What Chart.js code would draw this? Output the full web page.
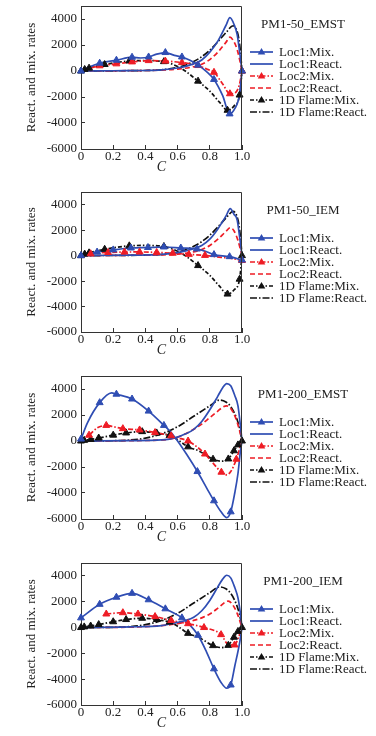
<!DOCTYPE html>
<html>
<head>
<meta charset="utf-8">
<script src="https://cdn.jsdelivr.net/npm/chart.js@4.4.1/dist/chart.umd.min.js"></script>
<style>
  html, body { margin: 0; padding: 0; background: #fff; overflow: hidden; }
  canvas { position: absolute; left: 0; }
</style>
</head>
<body>
<canvas id="c0" width="376" height="180" style="top:0px"></canvas>
<canvas id="c1" width="376" height="180" style="top:186px"></canvas>
<canvas id="c2" width="376" height="180" style="top:370px"></canvas>
<canvas id="c3" width="376" height="180" style="top:557px"></canvas>
<script>
const FONT = '"Liberation Serif", "DejaVu Serif", serif';
const BLUE = '#2f4db3';
const RED = '#ee1c25';
const BLACK = '#111111';

const panelTitles = ['PM1-50_EMST', 'PM1-50_IEM', 'PM1-200_EMST', 'PM1-200_IEM'];
const seriesLabels = ['Loc1:Mix.', 'Loc1:React.', 'Loc2:Mix.', 'Loc2:React.', '1D Flame:Mix.', '1D Flame:React.'];
const xTicks = [0, 0.2, 0.4, 0.6, 0.8, 1.0];
const xTickLabels = ['0', '0.2', '0.4', '0.6', '0.8', '1.0'];
const yTicks = [-6000, -4000, -2000, 0, 2000, 4000];
const yTickLabels = ['-6000', '-4000', '-2000', '0', '2000', '4000'];

// PM1-50_EMST
const p1Loc1Mix = [[0,0],[0.05,300],[0.116,600],[0.22,830],[0.317,1060],[0.37,1000],[0.42,1080],[0.47,1300],[0.524,1420],[0.58,1200],[0.627,1080],[0.68,800],[0.727,450],[0.78,-50],[0.826,-650],[0.88,-1900],[0.923,-3300],[0.955,-2900],[0.985,-1800],[1,0]];
const p1Loc1MixTri = [[0,0],[0.116,600],[0.22,830],[0.317,1060],[0.42,1080],[0.524,1420],[0.627,1080],[0.727,450],[0.826,-650],[0.923,-3300],[1,0]];
const p1Loc1React = [[0,0],[0.2,20],[0.4,40],[0.5,80],[0.6,230],[0.7,550],[0.75,850],[0.8,1450],[0.85,2300],[0.9,3500],[0.925,4100],[0.95,3600],[0.97,2800],[0.985,1500],[1,0]];
const p1Loc2Mix = [[0,0],[0.05,200],[0.116,400],[0.22,550],[0.317,700],[0.42,800],[0.524,760],[0.627,650],[0.727,420],[0.78,150],[0.826,-100],[0.88,-1000],[0.925,-1750],[0.96,-1650],[0.985,-1000],[1,0]];
const p1Loc2MixTri = [[0.116,400],[0.22,550],[0.317,700],[0.42,800],[0.524,760],[0.627,650],[0.727,420],[0.826,-100],[0.925,-1750],[1,0]];
const p1Loc2React = [[0,0],[0.2,15],[0.4,40],[0.5,70],[0.6,150],[0.7,330],[0.75,520],[0.8,880],[0.85,1450],[0.9,2200],[0.925,2600],[0.95,2250],[0.97,1650],[0.985,900],[1,0]];

// 1D flame, PM1-50 cases
const flame50Mix = [[0,0],[0.023,120],[0.05,220],[0.147,500],[0.3,770],[0.4,800],[0.515,720],[0.6,350],[0.65,-20],[0.727,-780],[0.8,-1550],[0.86,-2400],[0.91,-3020],[0.95,-2700],[0.985,-1850],[1,0]];
const flame50MixTri = [[0,0],[0.023,120],[0.05,220],[0.147,500],[0.3,770],[0.515,720],[0.727,-780],[0.91,-3020],[0.985,-1850],[1,0]];
const flame50React = [[0,0],[0.2,15],[0.4,40],[0.5,90],[0.55,170],[0.6,290],[0.65,450],[0.7,730],[0.75,1100],[0.8,1600],[0.85,2250],[0.9,2950],[0.945,3480],[0.965,3200],[0.98,2500],[0.99,1500],[1,0]];

// PM1-50_IEM
const p2Loc1Mix = [[0,0],[0.05,150],[0.1,280],[0.2,450],[0.31,600],[0.416,640],[0.515,680],[0.62,600],[0.72,520],[0.78,300],[0.826,80],[0.923,-80],[1,-350]];
const p2Loc1MixTri = [[0,0],[0.1,280],[0.2,450],[0.31,600],[0.416,640],[0.515,680],[0.62,600],[0.72,520],[0.826,80],[0.923,-80],[1,-350]];
const p2Loc1React = [[0,0],[0.3,40],[0.5,100],[0.6,240],[0.7,550],[0.75,800],[0.8,1300],[0.85,2100],[0.9,3100],[0.927,3700],[0.95,3250],[0.97,2800],[0.985,1500],[1,0]];
const p2Loc2Mix = [[0,0],[0.06,150],[0.168,250],[0.27,280],[0.364,290],[0.47,250],[0.57,190],[0.67,100],[0.77,20],[0.87,-130],[0.95,-250],[1,-380]];
const p2Loc2MixTri = [[0.06,150],[0.168,250],[0.27,280],[0.364,290],[0.47,250],[0.57,190],[0.67,100],[0.77,20],[1,-380]];
const p2Loc2React = [[0,0],[0.3,30],[0.5,60],[0.6,120],[0.7,300],[0.75,480],[0.8,800],[0.85,1300],[0.9,1900],[0.927,2200],[0.95,1950],[0.975,1200],[1,0]];

// PM1-200_EMST
const p3Loc1Mix = [[0,150],[0.04,1400],[0.116,2950],[0.19,3700],[0.22,3600],[0.317,3230],[0.42,2300],[0.515,1200],[0.56,650],[0.6,0],[0.66,-1100],[0.723,-2350],[0.78,-3600],[0.826,-4600],[0.87,-5450],[0.905,-5900],[0.93,-5450],[0.955,-4000],[0.975,-2500],[0.99,-800],[1,0]];
const p3Loc1MixTri = [[0,150],[0.116,2950],[0.22,3600],[0.317,3230],[0.42,2300],[0.515,1200],[0.723,-2350],[0.826,-4600],[0.93,-5450]];
const p3Loc1React = [[0,0],[0.3,30],[0.5,80],[0.55,150],[0.6,300],[0.65,550],[0.7,900],[0.75,1500],[0.8,2400],[0.85,3450],[0.88,4100],[0.905,4420],[0.93,4250],[0.955,3500],[0.975,2700],[0.99,1200],[1,0]];
const p3Loc2Mix = [[0,0],[0.05,450],[0.1,1000],[0.157,1200],[0.2,1100],[0.26,950],[0.364,850],[0.46,650],[0.56,400],[0.6,250],[0.665,0],[0.72,-450],[0.77,-1000],[0.82,-1700],[0.872,-2400],[0.905,-2600],[0.93,-2350],[0.965,-1400],[0.985,-600],[1,0]];
const p3Loc2MixTri = [[0.05,450],[0.157,1200],[0.26,950],[0.364,850],[0.46,650],[0.56,400],[0.665,0],[0.77,-1000],[0.872,-2400],[0.965,-1400]];
const p3Loc2React = [[0,0],[0.3,30],[0.5,80],[0.55,150],[0.6,300],[0.65,550],[0.7,900],[0.75,1300],[0.8,1800],[0.85,2300],[0.88,2600],[0.905,2700],[0.93,2500],[0.96,1800],[0.985,800],[1,0]];

// 1D flame, PM1-200 cases
const flame200Mix = [[0,0],[0.02,50],[0.06,120],[0.11,230],[0.2,450],[0.28,620],[0.38,720],[0.47,620],[0.55,420],[0.6,100],[0.665,-450],[0.73,-750],[0.82,-1400],[0.872,-1550],[0.915,-1380],[0.95,-750],[0.975,-300],[1,0]];
const flame200MixTri = [[0,0],[0.02,50],[0.06,120],[0.11,230],[0.2,450],[0.28,620],[0.38,720],[0.47,620],[0.55,420],[0.665,-450],[0.82,-1400],[0.915,-1380],[0.95,-750],[0.975,-300],[1,0]];
const flame200React = [[0,0],[0.2,20],[0.3,70],[0.4,220],[0.5,550],[0.6,1100],[0.7,1900],[0.8,2700],[0.86,3150],[0.9,3000],[0.93,2650],[0.96,1950],[0.985,1000],[1,0]];

// PM1-200_IEM
const p4Loc1Mix = [[0,750],[0.116,1800],[0.22,2350],[0.317,2650],[0.42,2150],[0.524,1450],[0.627,750],[0.68,150],[0.727,-600],[0.78,-1900],[0.826,-3200],[0.87,-4250],[0.905,-4700],[0.93,-4450],[0.955,-3000],[0.985,-1200],[1,0]];
const p4Loc1MixTri = [[0,750],[0.116,1800],[0.22,2350],[0.317,2650],[0.42,2150],[0.524,1450],[0.627,750],[0.727,-600],[0.826,-3200],[0.93,-4450]];
const p4Loc1React = [[0,0],[0.3,50],[0.5,150],[0.6,400],[0.65,550],[0.7,800],[0.75,1300],[0.8,2100],[0.85,3150],[0.88,3750],[0.905,4050],[0.93,3850],[0.955,3100],[0.975,2300],[0.99,1100],[1,0]];
const p4Loc2Mix = [[0.157,1050],[0.26,1150],[0.354,1050],[0.46,850],[0.56,550],[0.665,300],[0.764,0],[0.87,-550],[0.913,-1300],[0.954,-1350],[0.98,-700],[1,0]];
const p4Loc2MixTri = [[0.157,1050],[0.26,1150],[0.354,1050],[0.46,850],[0.56,550],[0.665,300],[0.764,0],[0.87,-550],[0.954,-1350]];
const p4Loc2React = [[0,0],[0.3,30],[0.5,150],[0.6,300],[0.7,550],[0.75,750],[0.8,1050],[0.85,1500],[0.9,2000],[0.915,2050],[0.94,1800],[0.97,1100],[1,0]];

const panelSeries = [
    [p1Loc1Mix, p1Loc1React, p1Loc2Mix, p1Loc2React, flame50Mix, flame50React],
    [p2Loc1Mix, p2Loc1React, p2Loc2Mix, p2Loc2React, flame50Mix, flame50React],
    [p3Loc1Mix, p3Loc1React, p3Loc2Mix, p3Loc2React, flame200Mix, flame200React],
    [p4Loc1Mix, p4Loc1React, p4Loc2Mix, p4Loc2React, flame200Mix, flame200React]
];
const panelMarks = [
    [p1Loc1MixTri, p1Loc2MixTri, flame50MixTri],
    [p2Loc1MixTri, p2Loc2MixTri, flame50MixTri],
    [p3Loc1MixTri, p3Loc2MixTri, flame200MixTri],
    [p4Loc1MixTri, p4Loc2MixTri, flame200MixTri]
];

const styles = [
    { color: BLUE, dash: [], marker: true },
    { color: BLUE, dash: [], marker: false },
    { color: RED, dash: [5, 2, 1.5, 2], marker: true },
    { color: RED, dash: [5, 3], marker: false },
    { color: BLACK, dash: [4, 2, 1.5, 2], marker: true },
    { color: BLACK, dash: [7, 2, 1.5, 2], marker: false }
];
const markColors = [BLUE, RED, BLACK];
const bottomPad = [0, 3, 0, 1];

Chart.defaults.font.family = FONT;

function toPoints(arr) {
    return arr.map(p => ({ x: p[0], y: p[1] }));
}

function drawTri(ctx, x, y, r, color) {
    ctx.save();
    ctx.setLineDash([]);
    ctx.fillStyle = color;
    ctx.beginPath();
    ctx.moveTo(x, y - r);
    ctx.lineTo(x + r * 0.95, y + r * 0.6);
    ctx.lineTo(x - r * 0.95, y + r * 0.6);
    ctx.closePath();
    ctx.fill();
    ctx.restore();
}

// side legend + closing the frame on top and right
const sideLegend = {
    id: 'sideLegend',
    afterDraw(chart, args, opts) {
        const { ctx, chartArea } = chart;
        const top = chartArea.top;
        const x0 = chartArea.right + 8;
        ctx.save();
        ctx.strokeStyle = '#333';
        ctx.lineWidth = 1;
        ctx.beginPath();
        ctx.moveTo(Math.round(chartArea.left) + 0.5, Math.round(top) + 0.5);
        ctx.lineTo(Math.round(chartArea.right) - 0.5, Math.round(top) + 0.5);
        ctx.lineTo(Math.round(chartArea.right) - 0.5, Math.round(chartArea.bottom));
        ctx.stroke();

        ctx.font = '13px ' + FONT;
        ctx.fillStyle = '#222';
        ctx.textBaseline = 'middle';
        ctx.textAlign = 'center';
        ctx.fillText(opts.title, x0 + 53, top + 19);
        ctx.textAlign = 'left';
        seriesLabels.forEach((lab, k) => {
            const y = top + 46 + k * 12;
            const st = styles[k];
            ctx.strokeStyle = st.color;
            ctx.lineWidth = 1.7;
            ctx.setLineDash(st.dash);
            ctx.beginPath();
            ctx.moveTo(x0, y);
            ctx.lineTo(x0 + 23, y);
            ctx.stroke();
            if (st.marker) drawTri(ctx, x0 + 11.5, y, 4, st.color);
            ctx.fillStyle = '#222';
            ctx.fillText(lab, x0 + 29, y + 0.5);
        });
        ctx.restore();
    }
};

function makeChart(i) {
    const datasets = [];
    panelMarks[i].forEach((m, k) => {
        datasets.push({
            data: toPoints(m),
            showLine: false,
            pointStyle: 'triangle',
            pointRadius: 4,
            backgroundColor: markColors[k],
            borderColor: markColors[k],
            borderWidth: 1,
            clip: 8
        });
    });
    panelSeries[i].forEach((s, k) => {
        datasets.push({
            data: toPoints(s),
            borderColor: styles[k].color,
            backgroundColor: styles[k].color,
            borderWidth: 1.7,
            borderDash: styles[k].dash,
            pointRadius: 0,
            cubicInterpolationMode: 'monotone',
            clip: 6
        });
    });

    new Chart(document.getElementById('c' + i), {
        type: 'line',
        data: { datasets: datasets },
        options: {
            responsive: false,
            animation: false,
            events: [],
            layout: { padding: { left: 0, right: 134, top: 6, bottom: bottomPad[i] } },
            plugins: {
                legend: { display: false },
                tooltip: { enabled: false },
                sideLegend: { title: panelTitles[i] }
            },
            scales: {
                x: {
                    type: 'linear',
                    min: 0,
                    max: 1,
                    afterBuildTicks: s => { s.ticks = xTicks.map(v => ({ value: v })); },
                    afterFit: s => { s.height = 31; s.paddingLeft = 0; s.paddingRight = 0; },
                    grid: { drawOnChartArea: false, tickLength: -4, color: '#333' },
                    border: { color: '#333', width: 1 },
                    ticks: {
                        padding: 4,
                        maxRotation: 0,
                        color: '#222',
                        font: { size: 13 },
                        callback: (v, idx) => xTickLabels[idx]
                    },
                    title: {
                        display: true,
                        text: 'C',
                        color: '#222',
                        font: { size: 14, style: 'italic' },
                        padding: { top: 0, bottom: 4 }
                    }
                },
                y: {
                    min: -6000,
                    max: 5000,
                    afterBuildTicks: s => { s.ticks = yTicks.map(v => ({ value: v })); },
                    afterFit: s => { s.width = 81; s.paddingTop = 0; s.paddingBottom = 0; },
                    grid: { drawOnChartArea: false, tickLength: -4, color: '#333' },
                    border: { color: '#333', width: 1 },
                    ticks: {
                        padding: 8,
                        color: '#222',
                        font: { size: 13 },
                        callback: (v, idx) => yTickLabels[idx]
                    },
                    title: {
                        display: true,
                        text: 'React. and mix. rates',
                        color: '#222',
                        font: { size: 13 },
                        padding: { top: 24, bottom: 0 }
                    }
                }
            }
        },
        plugins: [sideLegend]
    });
}

for (let i = 0; i < 4; i++) makeChart(i);
</script>
</body>
</html>
